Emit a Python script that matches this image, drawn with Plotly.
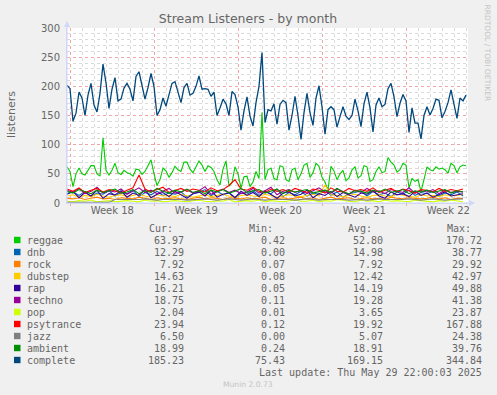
import plotly.graph_objects as go
import numpy as np

# ---------------- data (time in days from left edge of graph) ----------------
STEP_MAIN = 0.25   # sampling step of the big series (days)
STEP_SMALL = 0.5   # sampling step of the small series (days)

complete = [202,196,140,154,190,180,150,185,205,168,156,188,238,206,162,195,215,175,178,197,
            205,195,175,217,225,200,178,198,222,200,150,160,180,166,187,205,208,190,172,198,
            205,185,188,200,218,195,196,195,183,190,150,163,178,170,150,191,186,165,125,158,
            182,149,132,172,200,258,138,160,158,170,135,169,176,172,125,150,183,150,109,155,
            188,155,133,180,201,165,118,160,165,160,130,148,165,149,143,150,178,158,131,170,
            190,163,122,168,180,165,169,196,205,182,148,171,186,175,121,163,137,137,110,150,
            165,151,162,178,176,146,157,172,194,169,145,180,175,185]

reggae = [62,54,28,50,60,50,48,57,64,64,50,46,112,56,48,56,68,52,49,56,
          52,50,46,58,57,49,54,64,74,50,30,40,60,55,44,52,63,57,54,70,
          70,58,52,62,72,65,54,64,61,54,40,31,58,72,29,35,62,50,26,45,
          46,28,36,54,42,155,40,57,60,42,40,64,62,40,37,57,60,40,50,65,
          68,44,52,68,63,44,36,22,63,55,40,50,56,38,43,57,62,43,47,64,
          62,37,40,54,62,52,54,78,70,65,53,57,68,65,26,42,37,40,20,40,
          62,57,55,62,58,60,57,51,68,64,52,62,65,64]

dnb = [16,19,13,20,11,17,15,21,12,18,
       16,22,11,18,14,20,13,17,15,19,
       10,16,18,23,12,20,14,18,9,17,
       15,21,13,19,16,24,11,18,14,20,
       12,17,15,22,13,19,10,16,18,21,
       12,20,14,17,11,19,15,22,13,18,
       16,20,12,17,14,19,12]

rock = [8,7,9,6,8,10,7,8,6,9,
        8,7,10,8,6,9,7,8,9,7,
        6,8,10,7,9,8,6,9,8,7,
        9,7,8,10,6,8,9,7,8,10,
        7,9,6,8,10,7,8,9,6,8,
        9,7,8,6,10,8,7,9,8,7,
        8,10,7,9,6,8,8]

dubstep = [12,14,10,13,11,15,12,10,13,14,
           11,13,15,12,10,14,12,13,11,15,
           13,10,12,14,11,13,15,12,10,13,
           14,12,11,15,13,10,12,14,12,11,
           13,15,12,31,14,12,11,13,15,12,
           10,13,14,12,11,15,13,12,10,14,
           12,13,11,14,12,13,15]

rap = [15,20,9,18,12,22,8,16,14,21,
       10,17,13,23,9,15,18,11,20,14,
       8,16,19,12,22,10,15,17,9,20,
       13,18,11,21,14,8,17,19,12,15,
       22,9,16,13,20,11,18,14,10,17,
       15,21,12,8,19,14,16,11,20,13,
       17,10,15,19,12,14,16]

techno = [22,18,25,16,20,27,17,21,19,24,
          15,21,26,18,22,16,20,25,17,19,
          23,17,21,28,15,20,24,18,22,16,
          19,25,17,21,27,14,20,23,18,22,
          16,21,26,19,17,24,20,15,22,18,
          25,19,21,16,23,20,18,26,17,21,
          19,23,16,22,18,20,19]

pop = [3,2,4,3,5,2,3,4,2,3,
       4,3,2,5,3,4,2,3,4,3,
       2,4,5,3,2,4,3,6,2,3,
       4,3,5,2,4,3,2,4,5,3,
       3,5,2,4,3,6,4,3,2,5,
       3,4,2,5,3,4,3,2,5,4,
       3,2,4,3,5,3,2]

psytrance = [24,20,26,18,22,25,19,23,21,17,
             22,26,48,24,19,23,27,18,22,25,
             20,24,22,19,26,21,23,30,40,24,
             22,27,20,18,24,20,23,19,25,21,
             18,24,22,17,26,20,19,25,21,23,
             20,26,18,22,25,19,24,21,17,23,
             22,19,25,20,23,21,24]

jazz = [1,1,1,1,1,1,1,1,6,6,
        6,5,6,7,6,5,6,6,7,6,
        5,6,6,7,6,5,6,7,6,5,
        6,7,6,5,6,6,7,6,5,6,
        7,6,5,6,6,7,6,5,6,6,
        5,6,7,6,6,5,6,7,6,5,
        6,7,6,5,6,6,7]

ambient = [20,17,23,19,16,22,18,21,24,17,
           19,23,16,21,18,25,20,17,22,19,
           24,18,21,16,22,19,23,17,20,25,
           18,21,23,17,20,24,16,22,19,21,
           23,17,20,22,18,25,19,16,21,20,
           17,22,19,24,18,20,23,16,21,19,
           22,18,20,23,17,21,19]

series_names = ["reggae", "dnb", "rock", "dubstep", "rap", "techno", "pop",
                "psytrance", "jazz", "ambient", "complete"]
series_values = [reggae, dnb, rock, dubstep, rap, techno, pop,
                 psytrance, jazz, ambient, complete]
series_steps = [STEP_MAIN, STEP_SMALL, STEP_SMALL, STEP_SMALL, STEP_SMALL, STEP_SMALL,
                STEP_SMALL, STEP_SMALL, STEP_SMALL, STEP_SMALL, STEP_MAIN]
series_colors = ["#00CC00", "#0066B3", "#FF8000", "#FFCC00", "#330099", "#990099",
                 "#CCFF00", "#FF0000", "#808080", "#008F00", "#00487D"]

cur_txt = ["63.97", "12.29", "7.92", "14.63", "16.21", "18.75", "2.04", "23.94", "6.50", "18.99", "185.23"]
min_txt = ["0.42", "0.00", "0.07", "0.08", "0.05", "0.11", "0.01", "0.12", "0.00", "0.24", "75.43"]
avg_txt = ["52.80", "14.98", "7.92", "12.42", "14.19", "19.28", "3.65", "19.92", "5.07", "18.91", "169.15"]
max_txt = ["170.72", "38.77", "29.92", "42.97", "49.88", "41.38", "23.87", "167.88", "24.38", "39.76", "344.84"]

week_labels = ["Week 18", "Week 19", "Week 20", "Week 21", "Week 22"]
week_start = [0.275, 7.275, 14.275, 21.275, 28.275]   # week boundaries (days)
y_ticks = [0, 50, 100, 150, 200, 250, 300]

# ---------------- layout geometry (pixels) ----------------
WIDTH, HEIGHT = 497, 395
L, R, T, B = 67, 468, 28, 203
PW, PH = R - L, B - T
X_RANGE = [0, PW / 12.0]   # 12 px per day

def px_x(px):
    return (px - L) / PW

def px_y(py):
    return (B - py) / PH

FONT = "DejaVu Sans"
MONO = "DejaVu Sans Mono"
TXT = "#666666"
AXIS = "#CFD6F8"
MGRID = "#F2A5A5"
GRID = "#DADADA"

fig = go.Figure()

for name, vals, step, col in zip(series_names, series_values, series_steps, series_colors):
    xs = np.arange(len(vals)) * step
    fig.add_trace(go.Scatter(
        x=xs, y=vals, mode="lines", name=name,
        line=dict(color=col, width=1.3 if name == "complete" else 1.1),
        showlegend=False, hoverinfo="skip"))

# dummy trace for the label axis
fig.add_trace(go.Scatter(x=[], y=[], xaxis="x2", showlegend=False))

week_centers = [w + 3.5 for w in week_start]

fig.update_layout(
    width=WIDTH, height=HEIGHT,
    margin=dict(l=L, r=WIDTH - R, t=T, b=HEIGHT - B, pad=0),
    paper_bgcolor="#F0F0F0", plot_bgcolor="#FFFFFF",
    showlegend=False,
    title=dict(text="Stream Listeners - by month", x=248 / WIDTH, xanchor="center",
               xref="container", y=1 - 19 / HEIGHT, yanchor="middle",
               font=dict(family=FONT, size=12.5, color=TXT)),
    xaxis=dict(range=X_RANGE, tickmode="array", tickvals=week_start,
               showticklabels=False, showgrid=True, gridcolor=MGRID, griddash="dot",
               gridwidth=1, zeroline=False, showline=True, linecolor=AXIS, linewidth=1,
               ticks="outside", ticklen=2, tickcolor=MGRID,
               minor=dict(tickmode="linear", tick0=0.275, dtick=1, showgrid=True,
                          gridcolor=GRID, griddash="dot", gridwidth=1, ticks="")),
    xaxis2=dict(range=X_RANGE, overlaying="x", side="bottom", anchor="y",
                tickmode="array", tickvals=week_centers, ticktext=week_labels,
                showgrid=False, zeroline=False, showline=False, ticks="",
                tickfont=dict(family=FONT, size=10, color=TXT)),
    yaxis=dict(range=[0, 300], tickmode="array", tickvals=y_ticks,
               showgrid=True, gridcolor=MGRID, griddash="dot", gridwidth=1,
               zeroline=False, showline=True, linecolor=AXIS, linewidth=1,
               ticks="outside", ticklen=4, tickcolor="rgba(0,0,0,0)",
               tickfont=dict(family=FONT, size=10, color=TXT),
               minor=dict(tickmode="linear", tick0=0, dtick=10, showgrid=True,
                          gridcolor=GRID, griddash="dot", gridwidth=1, ticks="")),
)

annotations = []
shapes = []

# y axis title
annotations.append(dict(text="listeners", x=px_x(11), y=px_y(115), xref="paper", yref="paper",
                        showarrow=False, textangle=-90, xanchor="center", yanchor="middle",
                        font=dict(family=FONT, size=11, color=TXT)))
# side watermark
annotations.append(dict(text="RRDTOOL / TOBI OETIKER", x=px_x(487.5), y=px_y(53), xref="paper",
                        yref="paper", showarrow=False, textangle=90, xanchor="center",
                        yanchor="middle", font=dict(family=FONT, size=7.5, color="#C4C4C4")))
# munin version
annotations.append(dict(text="Munin 2.0.73", x=px_x(248), y=px_y(384), xref="paper", yref="paper",
                        showarrow=False, xanchor="center", yanchor="middle",
                        font=dict(family=FONT, size=7.6, color="#C4C4C4")))

# axis arrows
shapes.append(dict(type="line", xref="paper", yref="paper", x0=px_x(67), x1=px_x(67),
                   y0=px_y(203), y1=px_y(25), line=dict(color=AXIS, width=1)))
shapes.append(dict(type="path", xref="paper", yref="paper",
                   path=f"M {px_x(64)},{px_y(27)} L {px_x(67)},{px_y(21)} L {px_x(70)},{px_y(27)} Z",
                   fillcolor=AXIS, line=dict(color=AXIS, width=0)))
shapes.append(dict(type="line", xref="paper", yref="paper", x0=px_x(67), x1=px_x(470),
                   y0=px_y(203), y1=px_y(203), line=dict(color=AXIS, width=1)))
shapes.append(dict(type="path", xref="paper", yref="paper",
                   path=f"M {px_x(469)},{px_y(200)} L {px_x(475)},{px_y(203)} L {px_x(469)},{px_y(206)} Z",
                   fillcolor=AXIS, line=dict(color=AXIS, width=0)))

def txt(s, xpx, ypx, anchor):
    annotations.append(dict(text=s, x=px_x(xpx), y=px_y(ypx), xref="paper", yref="paper",
                            showarrow=False, xanchor=anchor, yanchor="middle",
                            borderpad=0, borderwidth=0,
                            font=dict(family=MONO, size=10, color=TXT)))

# legend header
header_y = 228
for h, xr in zip(["Cur:", "Min:", "Avg:", "Max:"], [173, 273, 372, 471]):
    txt(h, xr, header_y, "right")

for i, name in enumerate(series_names):
    ry = 240 + 12 * i
    shapes.append(dict(type="rect", xref="paper", yref="paper",
                       x0=px_x(14), x1=px_x(20.5), y0=px_y(ry + 3.2), y1=px_y(ry - 3.2),
                       fillcolor=series_colors[i], line=dict(width=0)))
    txt(name, 26.5, ry, "left")
    txt(cur_txt[i], 184, ry, "right")
    txt(min_txt[i], 285, ry, "right")
    txt(avg_txt[i], 383, ry, "right")
    txt(max_txt[i], 482, ry, "right")

txt("Last update: Thu May 29 22:00:03 2025", 482, 372, "right")

fig.update_layout(annotations=annotations, shapes=shapes)

fig.write_html("out.html", config={"responsive": False, "displayModeBar": False},
               post_script="document.body.style.margin='0';document.body.style.padding='0';")
